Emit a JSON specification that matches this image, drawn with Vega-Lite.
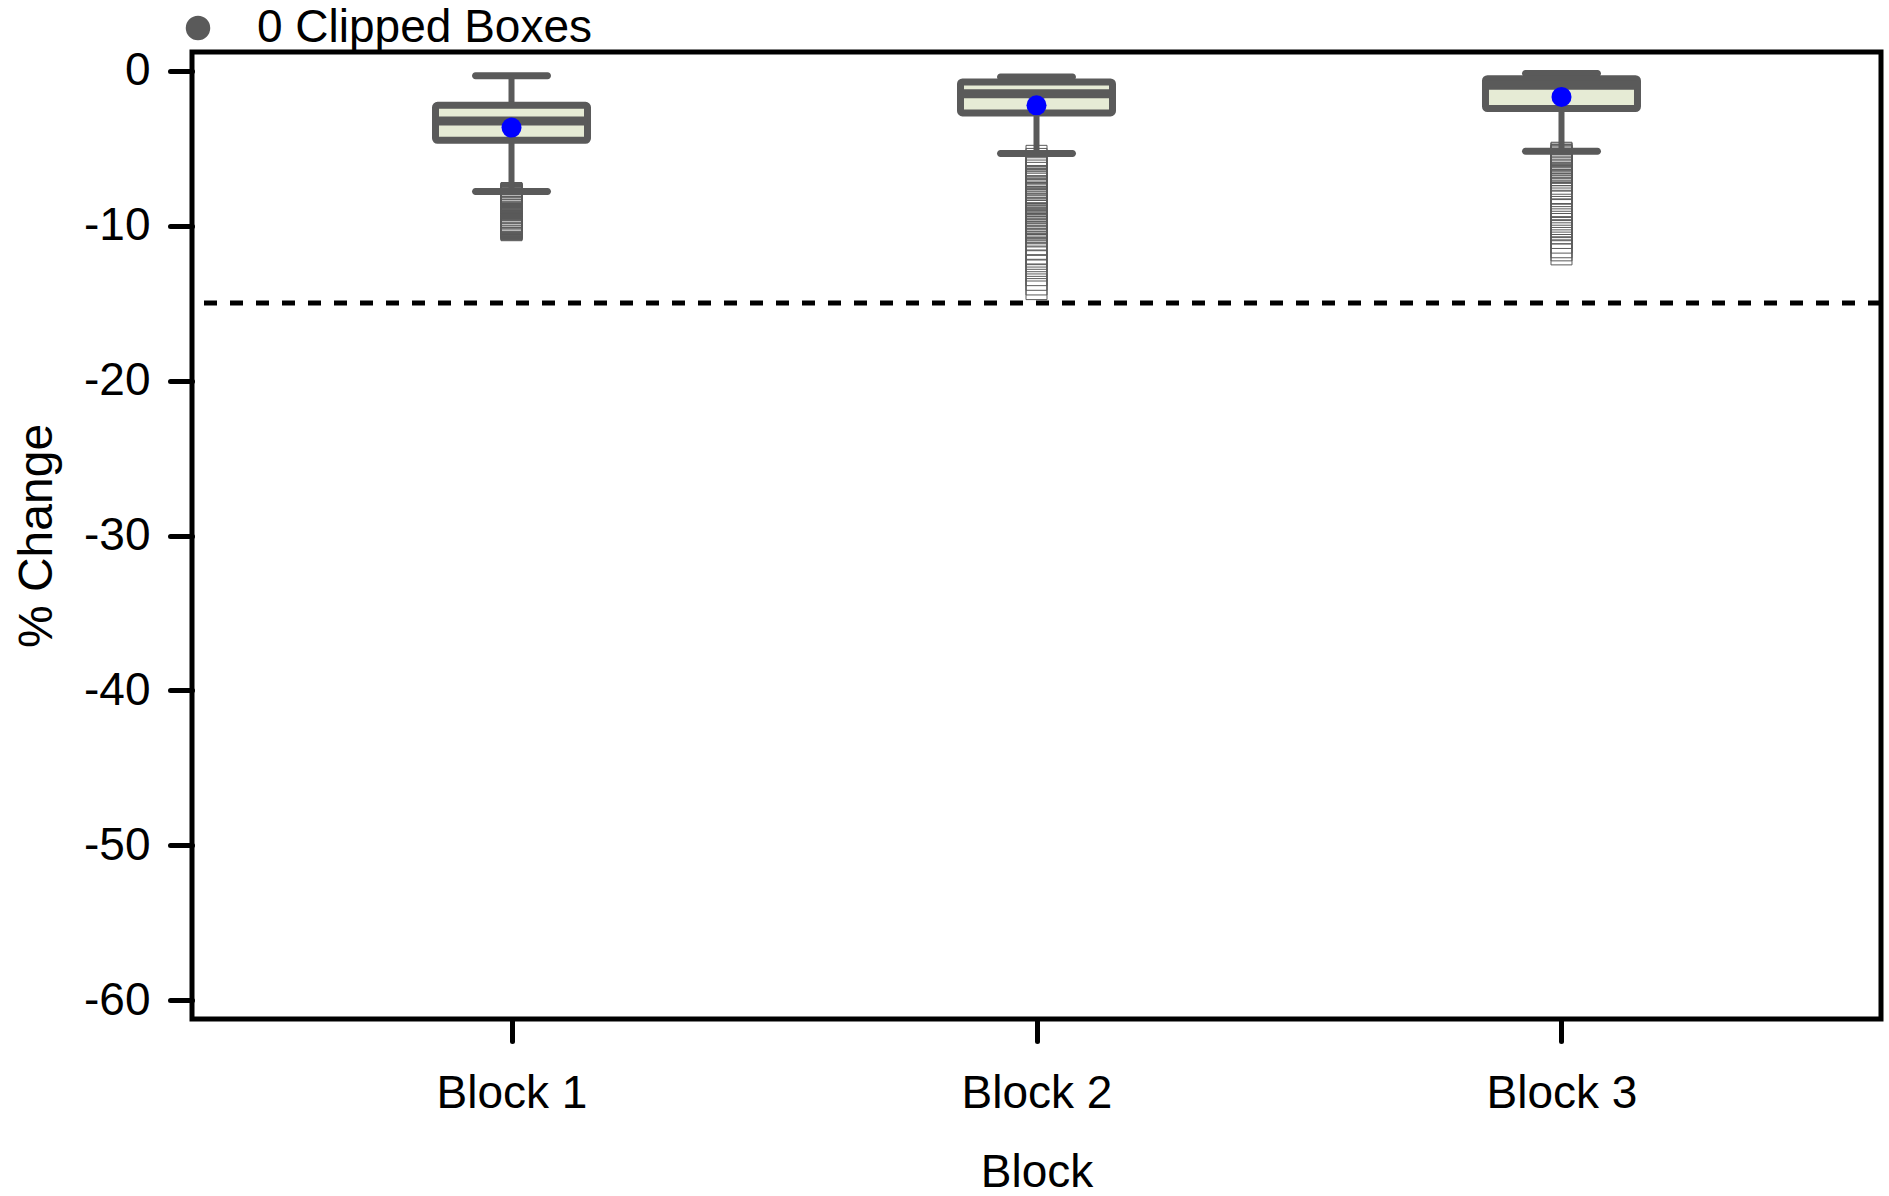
{
  "$schema": "https://vega.github.io/schema/vega-lite/v6.json",
  "width": 1689,
  "height": 967,
  "autosize": {"type": "none"},
  "padding": {"left": 192, "top": 52, "right": 8, "bottom": 177},
  "background": "white",
  "config": {
    "view": {"stroke": "black", "strokeWidth": 5},
    "font": "Liberation Sans",
    "axis": {
      "labelFont": "Liberation Sans",
      "titleFont": "Liberation Sans",
      "labelFontSize": 46,
      "titleFontSize": 46,
      "titleFontWeight": "normal",
      "labelColor": "black",
      "titleColor": "black",
      "tickColor": "black",
      "tickWidth": 5,
      "tickSize": 22,
      "tickCap": "round",
      "domain": false,
      "grid": false
    }
  },
  "datasets": {
    "stats": [
      {"block": "Block 1", "upper": -0.34, "q3": -2.24, "median": -3.25, "mean": -3.68, "q1": -4.5, "lower": -7.8},
      {"block": "Block 2", "upper": -0.41, "q3": -0.73, "median": -1.5, "mean": -2.24, "q1": -2.73, "lower": -5.35},
      {"block": "Block 3", "upper": -0.19, "q3": -0.52, "median": -0.95, "mean": -1.7, "q1": -2.45, "lower": -5.2}
    ],
    "outliers": [
      {"block": "Block 1", "v": -7.9}, {"block": "Block 1", "v": -7.93}, {"block": "Block 1", "v": -7.95}, {"block": "Block 1", "v": -7.98},
      {"block": "Block 1", "v": -8.0}, {"block": "Block 1", "v": -8.03}, {"block": "Block 1", "v": -8.05}, {"block": "Block 1", "v": -8.08},
      {"block": "Block 1", "v": -8.1}, {"block": "Block 1", "v": -8.12}, {"block": "Block 1", "v": -8.15}, {"block": "Block 1", "v": -8.18},
      {"block": "Block 1", "v": -8.2}, {"block": "Block 1", "v": -8.25}, {"block": "Block 1", "v": -8.3}, {"block": "Block 1", "v": -8.33},
      {"block": "Block 1", "v": -8.35}, {"block": "Block 1", "v": -8.4}, {"block": "Block 1", "v": -8.5}, {"block": "Block 1", "v": -8.55},
      {"block": "Block 1", "v": -8.6}, {"block": "Block 1", "v": -8.7}, {"block": "Block 1", "v": -8.8}, {"block": "Block 1", "v": -8.85},
      {"block": "Block 1", "v": -8.9}, {"block": "Block 1", "v": -9.0}, {"block": "Block 1", "v": -9.1}, {"block": "Block 1", "v": -9.15},
      {"block": "Block 1", "v": -9.2}, {"block": "Block 1", "v": -9.3}, {"block": "Block 1", "v": -9.35}, {"block": "Block 1", "v": -9.45},
      {"block": "Block 1", "v": -9.5}, {"block": "Block 1", "v": -9.6}, {"block": "Block 1", "v": -9.7}, {"block": "Block 1", "v": -9.75},
      {"block": "Block 1", "v": -9.78}, {"block": "Block 1", "v": -9.8}, {"block": "Block 1", "v": -9.83}, {"block": "Block 1", "v": -9.86},
      {"block": "Block 1", "v": -9.9}, {"block": "Block 1", "v": -9.93}, {"block": "Block 1", "v": -9.96}, {"block": "Block 1", "v": -10.0},
      {"block": "Block 1", "v": -10.03}, {"block": "Block 1", "v": -10.05}, {"block": "Block 1", "v": -10.08}, {"block": "Block 1", "v": -10.1},
      {"block": "Block 1", "v": -10.13}, {"block": "Block 1", "v": -10.16}, {"block": "Block 1", "v": -10.2}, {"block": "Block 1", "v": -10.23},
      {"block": "Block 1", "v": -10.26}, {"block": "Block 1", "v": -10.3},
      {"block": "Block 2", "v": -5.5}, {"block": "Block 2", "v": -5.7}, {"block": "Block 2", "v": -5.85}, {"block": "Block 2", "v": -6.1},
      {"block": "Block 2", "v": -6.3}, {"block": "Block 2", "v": -6.45}, {"block": "Block 2", "v": -6.6}, {"block": "Block 2", "v": -6.8},
      {"block": "Block 2", "v": -6.9}, {"block": "Block 2", "v": -7.0}, {"block": "Block 2", "v": -7.15}, {"block": "Block 2", "v": -7.3},
      {"block": "Block 2", "v": -7.5}, {"block": "Block 2", "v": -7.6}, {"block": "Block 2", "v": -7.7}, {"block": "Block 2", "v": -7.9},
      {"block": "Block 2", "v": -8.05}, {"block": "Block 2", "v": -8.2}, {"block": "Block 2", "v": -8.3}, {"block": "Block 2", "v": -8.45},
      {"block": "Block 2", "v": -8.6}, {"block": "Block 2", "v": -8.75}, {"block": "Block 2", "v": -8.9}, {"block": "Block 2", "v": -9.05},
      {"block": "Block 2", "v": -9.2}, {"block": "Block 2", "v": -9.3}, {"block": "Block 2", "v": -9.4}, {"block": "Block 2", "v": -9.5},
      {"block": "Block 2", "v": -9.6}, {"block": "Block 2", "v": -9.7}, {"block": "Block 2", "v": -9.8}, {"block": "Block 2", "v": -9.9},
      {"block": "Block 2", "v": -10.0}, {"block": "Block 2", "v": -10.1}, {"block": "Block 2", "v": -10.2}, {"block": "Block 2", "v": -10.3},
      {"block": "Block 2", "v": -10.4}, {"block": "Block 2", "v": -10.5}, {"block": "Block 2", "v": -10.7}, {"block": "Block 2", "v": -10.9},
      {"block": "Block 2", "v": -11.2}, {"block": "Block 2", "v": -11.5}, {"block": "Block 2", "v": -11.8}, {"block": "Block 2", "v": -12.0},
      {"block": "Block 2", "v": -12.3}, {"block": "Block 2", "v": -12.6}, {"block": "Block 2", "v": -12.9}, {"block": "Block 2", "v": -13.2},
      {"block": "Block 2", "v": -13.5}, {"block": "Block 2", "v": -13.8}, {"block": "Block 2", "v": -14.1},
      {"block": "Block 3", "v": -5.3}, {"block": "Block 3", "v": -5.35}, {"block": "Block 3", "v": -5.45}, {"block": "Block 3", "v": -5.5},
      {"block": "Block 3", "v": -5.6}, {"block": "Block 3", "v": -5.7}, {"block": "Block 3", "v": -5.75}, {"block": "Block 3", "v": -5.85},
      {"block": "Block 3", "v": -5.95}, {"block": "Block 3", "v": -6.0}, {"block": "Block 3", "v": -6.1}, {"block": "Block 3", "v": -6.2},
      {"block": "Block 3", "v": -6.3}, {"block": "Block 3", "v": -6.4}, {"block": "Block 3", "v": -6.5}, {"block": "Block 3", "v": -6.6},
      {"block": "Block 3", "v": -6.75}, {"block": "Block 3", "v": -6.9}, {"block": "Block 3", "v": -7.1}, {"block": "Block 3", "v": -7.3},
      {"block": "Block 3", "v": -7.6}, {"block": "Block 3", "v": -7.9}, {"block": "Block 3", "v": -8.1}, {"block": "Block 3", "v": -8.4},
      {"block": "Block 3", "v": -8.8}, {"block": "Block 3", "v": -9.0}, {"block": "Block 3", "v": -9.3}, {"block": "Block 3", "v": -9.6},
      {"block": "Block 3", "v": -9.9}, {"block": "Block 3", "v": -10.1}, {"block": "Block 3", "v": -10.3}, {"block": "Block 3", "v": -10.5},
      {"block": "Block 3", "v": -10.8}, {"block": "Block 3", "v": -11.1}, {"block": "Block 3", "v": -11.4}, {"block": "Block 3", "v": -11.6},
      {"block": "Block 3", "v": -11.86}
    ],
    "ref": [{"y": -15}],
    "leg": [{"block": "Block 1", "y": -3.68, "lab": "0 Clipped Boxes"}]
  },
  "encoding": {
    "x": {
      "field": "block", "type": "nominal", "sort": ["Block 1", "Block 2", "Block 3"],
      "scale": {"type": "point", "padding": 0.6086},
      "axis": {"title": "Block", "labelAngle": 0, "labelPadding": 30, "titlePadding": 34}
    }
  },
  "layer": [
    {
      "data": {"name": "outliers"},
      "mark": {"type": "point", "shape": "square", "filled": false, "size": 441, "stroke": "#5a5a5a", "strokeWidth": 1, "opacity": 1},
      "encoding": {
        "y": {
          "field": "v", "type": "quantitative",
          "scale": {"domain": [-61.2, 1.2], "nice": false, "zero": false},
          "axis": {"title": "% Change", "titleFontSize": 48, "values": [0, -10, -20, -30, -40, -50, -60], "labelExpr": "datum.value + ''", "labelPadding": 20, "titlePadding": 22}
        }
      }
    },
    {
      "data": {"name": "stats"},
      "mark": {"type": "rule", "stroke": "#5a5a5a", "strokeWidth": 6},
      "encoding": {"y": {"field": "upper", "type": "quantitative"}, "y2": {"field": "lower"}}
    },
    {
      "data": {"name": "stats"},
      "mark": {"type": "tick", "color": "#5a5a5a", "size": 79, "thickness": 7, "cornerRadius": 3.5, "opacity": 1},
      "encoding": {"y": {"field": "upper", "type": "quantitative"}}
    },
    {
      "data": {"name": "stats"},
      "mark": {"type": "tick", "color": "#5a5a5a", "size": 79, "thickness": 7, "cornerRadius": 3.5, "opacity": 1},
      "encoding": {"y": {"field": "lower", "type": "quantitative"}}
    },
    {
      "data": {"name": "stats"},
      "mark": {"type": "bar", "size": 152, "fill": "#E6EBD5", "stroke": "#5a5a5a", "strokeWidth": 7, "cornerRadius": 2},
      "encoding": {"y": {"field": "q3", "type": "quantitative"}, "y2": {"field": "q1"}}
    },
    {
      "data": {"name": "stats"},
      "mark": {"type": "tick", "color": "#5a5a5a", "size": 152, "thickness": 9, "opacity": 1},
      "encoding": {"y": {"field": "median", "type": "quantitative"}}
    },
    {
      "data": {"name": "stats"},
      "mark": {"type": "point", "shape": "circle", "filled": true, "color": "#0000FF", "size": 400, "opacity": 1},
      "encoding": {"y": {"field": "mean", "type": "quantitative"}}
    },
    {
      "data": {"name": "ref"},
      "mark": {"type": "rule", "color": "black", "strokeWidth": 5, "strokeDash": [13, 13]},
      "encoding": {"y": {"field": "y", "type": "quantitative"}, "x": null}
    },
    {
      "data": {"name": "leg"},
      "mark": {"type": "point", "shape": "circle", "filled": true, "opacity": 0, "size": 600},
      "encoding": {
        "y": {"field": "y", "type": "quantitative"},
        "color": {
          "field": "lab", "type": "nominal",
          "scale": {"range": ["#5a5a5a"]},
          "legend": {
            "title": null, "orient": "none", "legendX": -17, "legendY": -47,
            "padding": 0, "labelFontSize": 46, "labelFont": "Liberation Sans", "labelColor": "black", "labelLimit": 0,
            "symbolSize": 600, "symbolType": "circle", "symbolOpacity": 1, "symbolFillColor": "#5a5a5a",
            "symbolStrokeWidth": 0, "labelOffset": 36
          }
        }
      }
    }
  ]
}
